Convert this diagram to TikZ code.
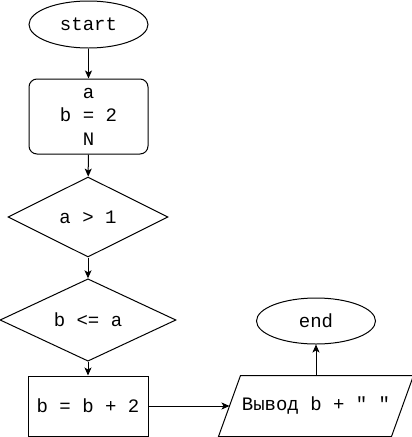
\documentclass[tikz,border=0pt]{standalone}
\usepackage{fontspec}
\setmonofont{Liberation Mono}
\usetikzlibrary{shapes.geometric,arrows.meta}
\tikzset{
  every node/.style={font=\ttfamily\fontsize{19}{23.5}\selectfont, align=center, inner sep=0pt},
  term/.style={draw, ellipse, minimum width=119pt, minimum height=47pt},
  procr/.style={draw, rounded corners=8pt, minimum width=119pt, minimum height=75pt},
  proc/.style={draw, minimum width=120pt, minimum height=60pt},
  decide/.style={draw, diamond, minimum width=#1, minimum height=80pt},
  iobox/.style={minimum width=172pt, minimum height=60pt},
  conn/.style={-{Stealth[length=8pt,width=7pt,inset=2pt]}},
}
\begin{document}
\begin{tikzpicture}[x=1pt,y=-1pt,line width=1pt]
\useasboundingbox (0,0) rectangle (412,437);
\node[term] (start) at (88.5,24.5) {start};
\node[procr] (init) at (88.5,116.5) {a\\b = 2\\N};
\node[decide=160pt] (d1) at (88,217) {a > 1};
\node[decide=176pt] (d2) at (88,320) {b <= a};
\node[proc] (upd) at (88,406) {b = b + 2};
\node[iobox] (out) at (316,406) {Вывод b + " "};
\draw ([xshift=11pt]out.north west) -- ([xshift=11pt]out.north east)
  -- ([xshift=-11pt]out.south east) -- ([xshift=-11pt]out.south west) -- cycle;
\node[term, minimum width=119pt, minimum height=46pt] (end) at (316,321) {end};
\draw[conn] (start) -- (init);
\draw[conn] (init) -- (d1);
\draw[conn] (d1) -- (d2);
\draw[conn] (d2) -- (upd);
\draw[conn] (upd) -- (out.west);
\draw[conn] (out.north) -- (end.south);
\end{tikzpicture}
\end{document}
